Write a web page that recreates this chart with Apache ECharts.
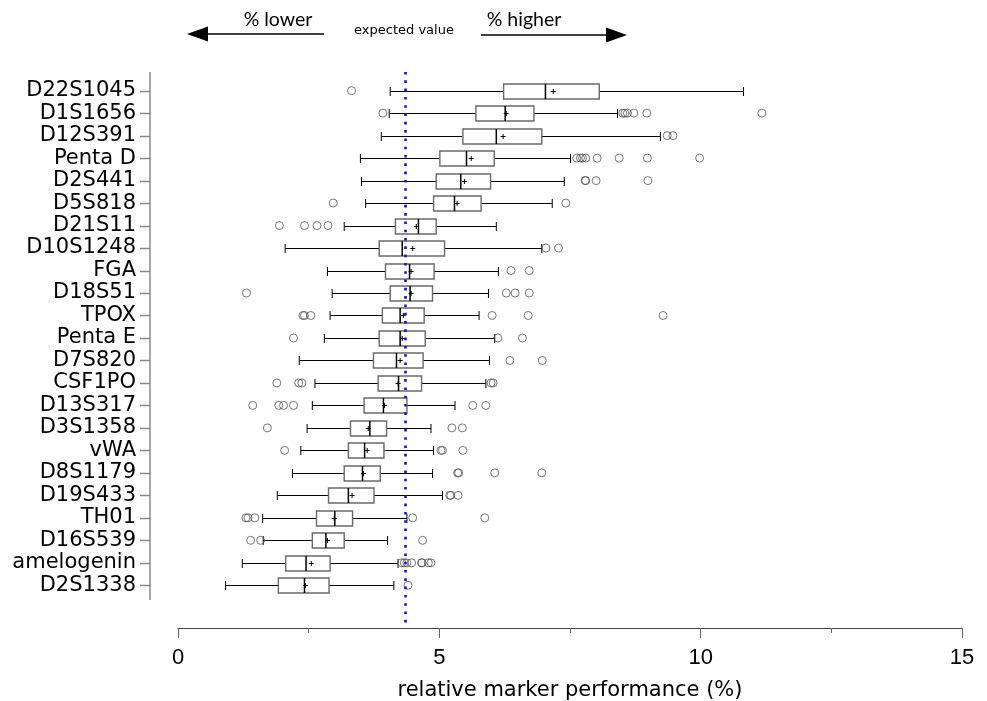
<!DOCTYPE html>
<html>
<head>
<meta charset="utf-8">
<script src="https://cdn.jsdelivr.net/npm/echarts@6/dist/echarts.min.js"></script>
<style>html,body{margin:0;padding:0;background:#fff}#c{width:987px;height:701px}</style>
</head>
<body>
<div id="c"></div>
<script>
var categories = ['D22S1045','D1S1656','D12S391','Penta D','D2S441','D5S818','D21S11','D10S1248','FGA','D18S51','TPOX','Penta E','D7S820','CSF1PO','D13S317','D3S1358','vWA','D8S1179','D19S433','TH01','D16S539','amelogenin','D2S1338'];
var whiskerLow = [4.06,4.04,3.89,3.49,3.51,3.59,3.18,2.05,2.86,2.95,2.91,2.80,2.32,2.62,2.57,2.47,2.35,2.19,1.90,1.62,1.63,1.23,0.91];
var q1 = [6.23,5.70,5.45,5.01,4.94,4.89,4.16,3.85,3.97,4.06,3.91,3.85,3.74,3.83,3.56,3.30,3.26,3.18,2.88,2.65,2.57,2.06,1.92];
var median = [7.03,6.26,6.09,5.52,5.41,5.29,4.60,4.29,4.43,4.44,4.25,4.25,4.18,4.22,3.93,3.67,3.57,3.53,3.26,3.00,2.83,2.45,2.42];
var q3 = [8.06,6.81,6.96,6.05,5.98,5.80,4.94,5.10,4.90,4.87,4.71,4.73,4.69,4.66,4.38,3.99,3.94,3.87,3.75,3.34,3.18,2.91,2.89];
var whiskerHigh = [10.82,8.41,9.23,7.51,7.39,7.16,6.09,6.96,6.13,5.94,5.76,6.06,5.96,5.89,5.30,4.84,4.89,4.87,5.06,4.38,4.01,4.21,4.13];
var means = [7.18,6.28,6.22,5.61,5.48,5.34,4.56,4.49,4.46,4.46,4.31,4.29,4.25,4.21,3.95,3.64,3.62,3.55,3.33,2.99,2.86,2.55,2.44];
var outliers = [
  [3.32],
  [3.92,8.51,8.55,8.60,8.72,8.97,11.17],
  [9.36,9.47],
  [7.63,7.70,7.74,7.80,8.02,8.44,8.98,9.98],
  [7.79,7.80,8.00,8.99],
  [2.97,7.42],
  [1.94,2.42,2.66,2.87],
  [7.04,7.28],
  [6.37,6.72],
  [1.31,6.28,6.45,6.72],
  [2.39,2.42,2.54,6.01,6.70,9.28],
  [2.21,6.12,6.59],
  [6.35,6.97],
  [1.89,2.31,2.37,5.99,6.03],
  [1.43,1.93,2.02,2.21,5.64,5.89],
  [1.71,5.24,5.44],
  [2.04,5.03,5.06,5.45],
  [5.35,5.37,6.06,6.96],
  [5.20,5.22,5.36],
  [1.30,1.34,1.47,4.49,5.87],
  [1.39,1.58,4.68],
  [4.28,4.33,4.38,4.47,4.66,4.67,4.79,4.84],
  [4.40]
];
var expectedValue = 100 / 23;
var xTicks = [0, 5, 10, 15];

var boxData = categories.map(function (c, i) {
  return [i, whiskerLow[i], q1[i], median[i], q3[i], whiskerHigh[i], means[i]];
});
var outlierData = [];
outliers.forEach(function (arr, i) {
  arr.forEach(function (v) { outlierData.push([v, i]); });
});
var catIdx = categories.map(function (c, i) { return i; });

var chart = echarts.init(document.getElementById('c'), null, {renderer: 'canvas'});
var FONT = 'Liberation Sans';
var YFONT = 'DejaVu Sans';
var Y_OFFSET = 28;
chart.setOption({
  animation: false,
  backgroundColor: '#fff',
  grid: {left: 178, right: 25, top: 72, bottom: 73, containLabel: false, outerBoundsMode: 'none'},
  xAxis: {
    type: 'value', min: xTicks[0], max: xTicks[xTicks.length - 1], interval: 5,
    axisLine: {show: true, onZero: false, lineStyle: {color: '#444', width: 1}},
    axisTick: {show: true, length: 10, lineStyle: {color: '#666', width: 1}},
    minorTick: {show: true, splitNumber: 2, length: 5, lineStyle: {color: '#666', width: 1}},
    splitLine: {show: false},
    axisLabel: {color: '#000', fontSize: 22, fontFamily: FONT, margin: 19},
    name: 'relative marker performance (%)',
    nameLocation: 'middle', nameGap: 52,
    nameTextStyle: {color: '#000', fontSize: 21, fontFamily: YFONT}
  },
  yAxis: {
    type: 'value', inverse: true, min: -0.83, max: 23.9, offset: Y_OFFSET,
    axisLine: {show: false},
    axisTick: {show: false},
    axisLabel: {
      color: '#000', fontSize: 21, fontFamily: YFONT, margin: 14, customValues: catIdx,
      formatter: function (v) { return categories[Math.round(v)] || ''; }
    },
    splitLine: {show: false}
  },
  graphic: [
    {type: 'line', shape: {x1: 150, y1: 72, x2: 150, y2: 600}, style: {stroke: '#888', lineWidth: 1.5}, z: 10},
    {type: 'line', shape: {x1: 206, y1: 34, x2: 324, y2: 34}, style: {stroke: '#000', lineWidth: 1.5}},
    {type: 'polygon', shape: {points: [[187, 34], [208, 26.5], [208, 41.5]]}, style: {fill: '#000'}},
    {type: 'line', shape: {x1: 481, y1: 35, x2: 608, y2: 35}, style: {stroke: '#000', lineWidth: 1.5}},
    {type: 'polygon', shape: {points: [[627, 35], [606, 27.5], [606, 42.5]]}, style: {fill: '#000'}},
    {type: 'text', x: 278, y: 20, style: {text: '% lower', font: '19.5px Lato', fill: '#000', align: 'center', verticalAlign: 'middle'}},
    {type: 'text', x: 524, y: 20, style: {text: '% higher', font: '19.5px Lato', fill: '#000', align: 'center', verticalAlign: 'middle'}},
    {type: 'text', x: 404, y: 31, style: {text: 'expected value', font: '13px "DejaVu Sans"', fill: '#000', align: 'center', verticalAlign: 'middle'}}
  ],
  series: [
    {
      type: 'custom',
      data: boxData,
      encode: {x: [1, 2, 3, 4, 5, 6], y: 0},
      z: 2,
      clip: false,
      renderItem: function (params, api) {
        var yi = api.value(0);
        var lo = api.coord([api.value(1), yi]);
        var a = api.coord([api.value(2), yi]);
        var md = api.coord([api.value(3), yi]);
        var b = api.coord([api.value(4), yi]);
        var hi = api.coord([api.value(5), yi]);
        var mn = api.coord([api.value(6), yi]);
        var axisX = api.coord([xTicks[0], yi])[0] - Y_OFFSET;
        var y = Math.round(lo[1]) + 0.5;
        var h = 15, c = 4.5, p = 2.5;
        var ls = {stroke: '#000', lineWidth: 1};
        return {type: 'group', children: [
          {type: 'line', shape: {x1: axisX - 10, y1: y, x2: axisX, y2: y}, style: {stroke: '#888', lineWidth: 1.5}},
          {type: 'line', shape: {x1: lo[0], y1: y, x2: a[0], y2: y}, style: ls},
          {type: 'line', shape: {x1: b[0], y1: y, x2: hi[0], y2: y}, style: ls},
          {type: 'line', shape: {x1: lo[0], y1: y - c, x2: lo[0], y2: y + c}, style: ls},
          {type: 'line', shape: {x1: hi[0], y1: y - c, x2: hi[0], y2: y + c}, style: ls},
          {type: 'rect', shape: {x: a[0], y: y - h / 2, width: b[0] - a[0], height: h}, style: {fill: '#fff', stroke: '#6a6a6a', lineWidth: 1.4}},
          {type: 'line', shape: {x1: md[0], y1: y - h / 2, x2: md[0], y2: y + h / 2}, style: {stroke: '#000', lineWidth: 1.5}},
          {type: 'line', shape: {x1: mn[0] - p, y1: y, x2: mn[0] + p, y2: y}, style: ls},
          {type: 'line', shape: {x1: mn[0], y1: y - p, x2: mn[0], y2: y + p}, style: ls}
        ]};
      }
    },
    {
      type: 'scatter',
      data: outlierData,
      symbol: 'circle',
      symbolSize: 8,
      z: 3,
      itemStyle: {color: 'rgba(0,0,0,0)', borderColor: '#555', borderWidth: 1},
      markLine: {
        silent: true,
        symbol: ['none', 'none'],
        label: {show: false},
        lineStyle: {color: '#1515c8', width: 2.6, type: [2.6, 5.7], opacity: 1},
        data: [{xAxis: expectedValue}],
        z: 5
      }
    }
  ]
});
</script>
</body>
</html>
